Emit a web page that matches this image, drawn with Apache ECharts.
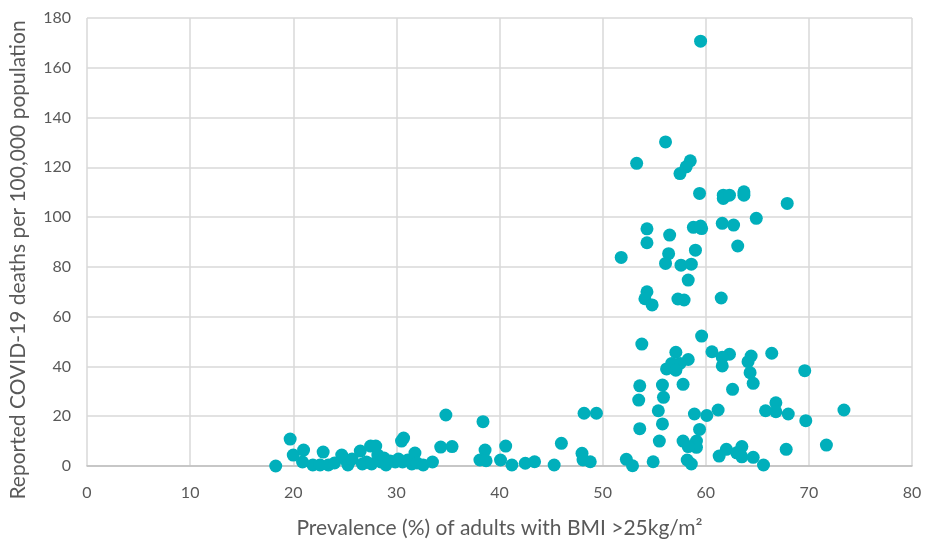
<!DOCTYPE html>
<html>
<head>
<meta charset="utf-8">
<script src="https://cdn.jsdelivr.net/npm/echarts@6/dist/echarts.min.js"></script>
<style>html,body{margin:0;padding:0;background:#fff}#c{width:925px;height:541px}</style>
</head>
<body>
<div id="c"></div>
<script>
// Prevalence (%) of adults with BMI > 25
const bmi = [
 18.3,19.7,20.0,21.0,20.9,21.9,22.6,22.9,23.4,24.0,24.7,25.1,25.3,25.7,26.5,26.7,27.1,27.5,27.6,28.0,
 28.2,28.5,28.8,29.0,29.4,29.9,30.2,30.5,30.7,30.6,31.1,31.5,31.8,32.0,32.6,33.5,34.3,34.8,35.4,
 38.4,38.6,38.1,38.7,40.1,40.6,41.2,42.5,43.4,45.3,46.0,48.0,48.2,49.4,48.1,48.8,
 52.3,52.9,54.9,53.6,53.5,53.6,53.8,51.8,54.3,54.3,54.3,54.1,54.8,53.3,
 59.5,56.1,58.5,58.1,57.5,59.4,61.7,61.7,62.3,63.7,63.7,67.9,64.9,61.6,62.7,58.8,59.6,59.5,
 56.5,59.0,63.1,56.4,56.1,57.6,58.6,58.3,57.3,57.9,61.5,
 59.6,57.1,60.6,58.3,57.5,56.7,56.2,57.1,62.3,61.6,64.4,64.1,66.4,61.6,64.3,64.6,69.6,62.6,
 55.8,57.8,55.9,55.4,58.9,60.1,61.2,65.8,66.8,66.8,68.0,73.4,69.7,55.8,59.4,
 55.5,57.8,59.1,59.1,58.3,58.2,58.6,62.0,61.3,63.5,63.0,63.5,64.6,65.6,67.8,71.7
];
// Reported COVID-19 deaths per 100,000 population
const deaths = [
 0.0,10.8,4.4,6.4,1.6,0.4,0.4,5.6,0.4,1.2,4.4,2.4,0.4,2.8,6.0,0.8,1.6,8.0,0.8,8.0,
 4.4,1.6,3.2,0.4,2.0,1.6,2.8,10.0,11.2,1.6,2.4,0.8,5.2,1.2,0.4,1.6,7.6,20.5,7.8,
 17.8,6.4,2.4,2.1,2.4,8.0,0.4,1.1,1.7,0.4,9.1,5.1,21.2,21.2,2.4,1.7,
 2.7,0.1,1.7,32.2,26.5,15.0,49.0,83.8,95.3,89.7,70.0,67.2,64.7,121.6,
 170.7,130.2,122.6,120.2,117.5,109.5,108.8,107.5,108.8,110.2,108.8,105.5,99.5,97.5,96.8,95.9,95.4,96.4,
 92.8,86.7,88.4,85.3,81.4,80.7,81.1,74.7,67.1,66.7,67.5,
 52.2,45.7,45.9,42.8,41.2,41.2,39.0,38.5,44.9,43.7,44.2,41.9,45.3,40.2,37.5,33.2,38.3,30.8,
 32.5,32.8,27.6,22.2,20.9,20.3,22.5,22.2,25.4,21.8,20.9,22.5,18.2,16.9,14.7,
 10.0,10.0,10.0,7.5,7.8,2.4,0.8,6.7,4.0,7.8,5.3,3.7,3.5,0.4,6.7,8.4
];
const xTicks = [0,10,20,30,40,50,60,70,80];
const yTicks = [0,20,40,60,80,100,120,140,160,180];

const points = bmi.map((v,i)=>[v, deaths[i]]);
const chart = echarts.init(document.getElementById('c'));
const gridColor = '#d9d9d9';
const labelStyle = {color:'#595959', fontFamily:'Lato', fontSize:16};
chart.setOption({
  animation:false,
  backgroundColor:'#fff',
  grid:{left:87, right:13, top:18, bottom:75, containLabel:false, outerBoundsMode:'none'},
  xAxis:{
    type:'value', min:xTicks[0], max:xTicks[xTicks.length-1], interval:10,
    name:'Prevalence (%) of adults with BMI >25kg/m\u00B2', nameLocation:'middle', nameGap:52,
    nameTextStyle:{color:'#595959', fontFamily:'Lato', fontSize:21},
    axisLine:{show:true, lineStyle:{color:'#bfbfbf', width:1.5}},
    axisTick:{show:false},
    axisLabel:Object.assign({margin:19}, labelStyle),
    splitLine:{show:true, lineStyle:{color:gridColor, width:1.5}}
  },
  yAxis:{
    type:'value', min:yTicks[0], max:yTicks[yTicks.length-1], interval:20,
    name:'Reported COVID-19 deaths per 100,000 population', nameLocation:'middle', nameGap:58,
    nameTextStyle:{color:'#595959', fontFamily:'Lato', fontSize:21, padding:[0,36,0,0]},
    axisLine:{show:false}, axisTick:{show:false},
    axisLabel:Object.assign({margin:16}, labelStyle),
    splitLine:{show:true, lineStyle:{color:gridColor, width:1.5}}
  },
  series:[{
    type:'scatter', data:points, symbol:'circle', symbolSize:13,
    itemStyle:{color:'#00AFBB', opacity:1}
  }]
});
</script>
</body>
</html>
